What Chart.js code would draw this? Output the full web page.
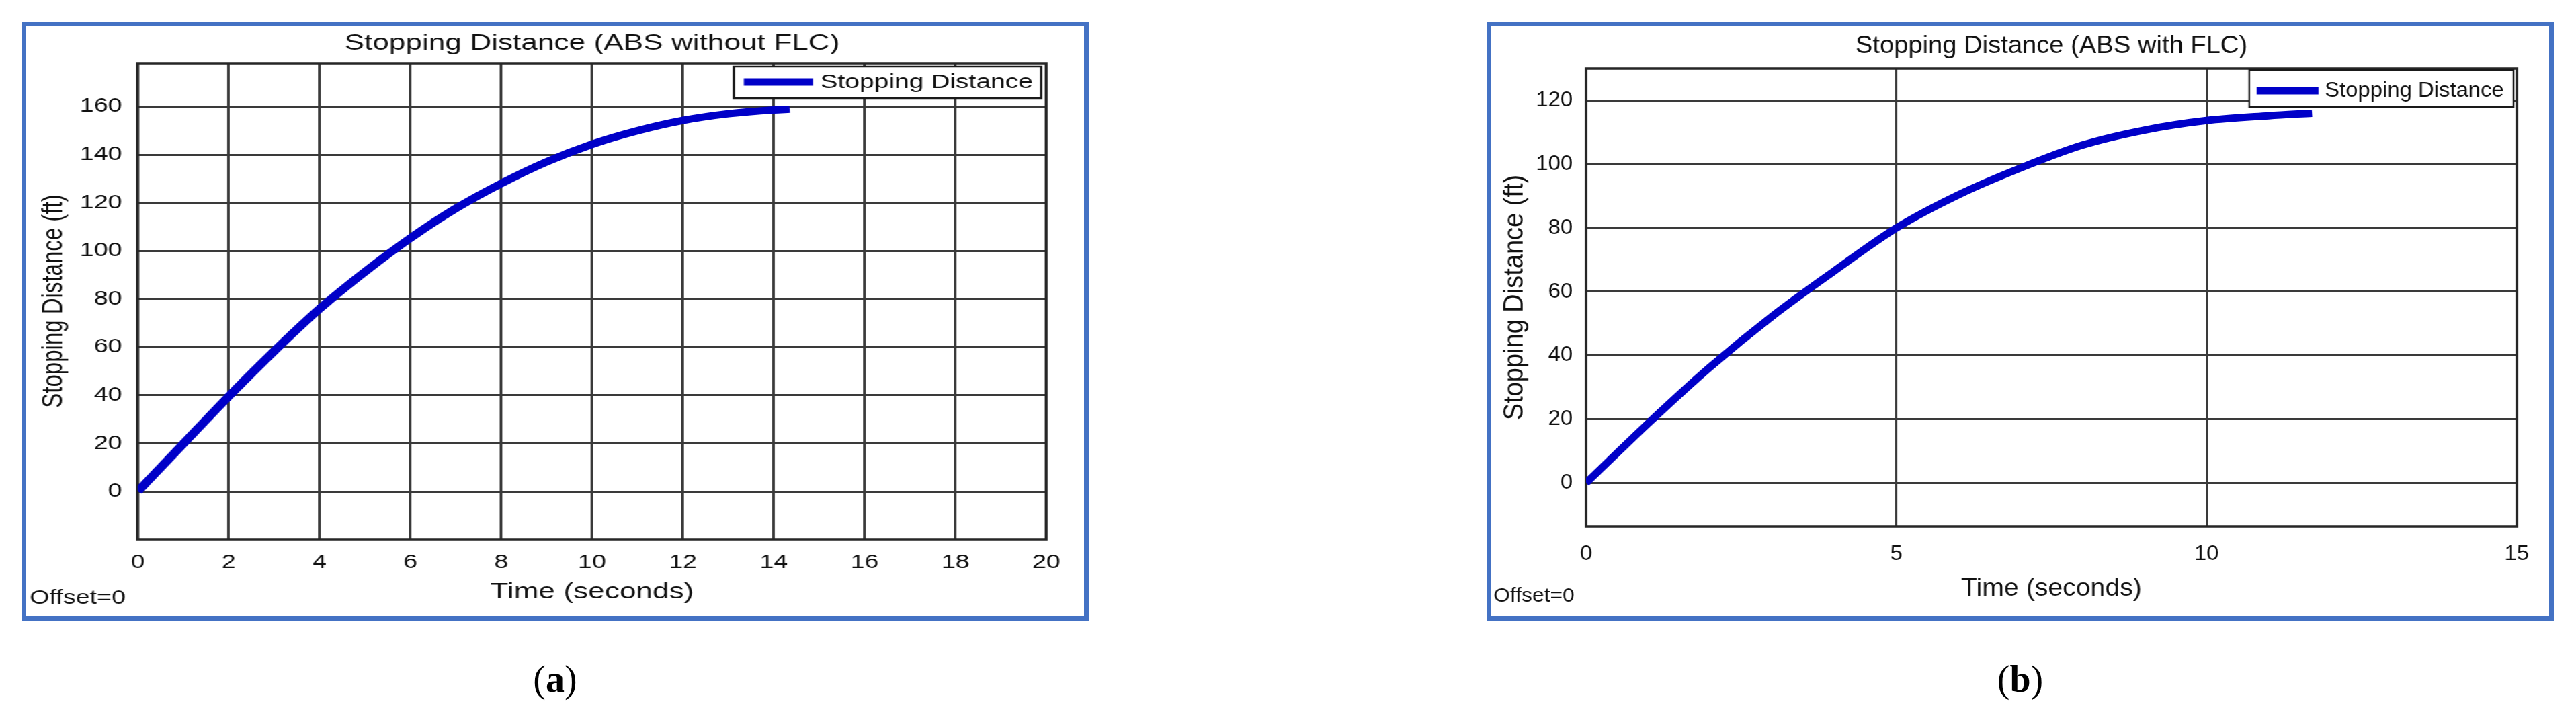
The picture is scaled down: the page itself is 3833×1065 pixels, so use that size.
<!DOCTYPE html>
<html>
<head>
<meta charset="utf-8">
<script src="https://cdn.jsdelivr.net/npm/chart.js@4.4.1/dist/chart.umd.min.js"></script>
<style>
  html, body { margin: 0; padding: 0; background: #fff; }
  body { width: 3833px; height: 1065px; position: relative; overflow: hidden; }
  .panel { position: absolute; top: 32px; width: 1588px; height: 892px; box-sizing: border-box; border: 7px solid #4472C4; background: #fff; }
  .panel canvas { display: block; }
  .cap { position: absolute; top: 975px; width: 200px; text-align: center; font-family: "Liberation Serif", "Times New Roman", serif; font-size: 56px; color: #000; line-height: 70px; }
</style>
</head>
<body>
<div class="panel" style="left:32px"><canvas id="chartA" width="1211" height="878" style="width:1574px;height:878px"></canvas></div>
<div class="panel" style="left:2212px"><canvas id="chartB" width="1485" height="878" style="width:1574px;height:878px"></canvas></div>
<div class="cap" style="left:726px">(<b>a</b>)</div>
<div class="cap" style="left:2906px">(<b>b</b>)</div>
<script>
// ---------- data ----------
const seriesLabel = 'Stopping Distance';

const titleA = 'Stopping Distance (ABS without FLC)';
const timeA = [0, 1, 2, 3, 4, 5, 6, 7, 8, 9, 10, 11, 12, 13, 14, 14.35];
const distA = [0, 19.8, 39.5, 58.3, 75.9, 91.3, 105.3, 117.6, 128.0, 137.0, 144.3, 149.9, 154.2, 157.0, 158.6, 158.9];
const xTicksA = [0, 2, 4, 6, 8, 10, 12, 14, 16, 18, 20];
const yTicksA = [0, 20, 40, 60, 80, 100, 120, 140, 160];
const xRangeA = [0, 20];
const yRangeA = [-19.8, 178];

const titleB = 'Stopping Distance (ABS with FLC)';
const timeB = [0, 1, 2, 3, 4, 5, 6, 7, 8, 9, 10, 11, 11.7];
const distB = [0, 18.7, 36.4, 52.3, 66.5, 80.0, 90.4, 98.8, 106.0, 110.7, 113.7, 115.2, 116.0];
const xTicksB = [0, 5, 10, 15];
const yTicksB = [0, 20, 40, 60, 80, 100, 120];
const xRangeB = [0, 15];
const yRangeB = [-13.6, 130];

const xTitle = 'Time (seconds)';
const yTitle = 'Stopping Distance (ft)';
const offsetText = 'Offset=0';

// ---------- styling ----------
const FONT = '"Liberation Sans", Arial, Helvetica, sans-serif';
Chart.defaults.font.family = FONT;
Chart.defaults.color = '#111';

const decor = {
  id: 'decor',
  beforeDatasetsDraw(chart, args, o) {
    const { ctx, chartArea: a } = chart;
    ctx.save();
    ctx.strokeStyle = '#262626';
    ctx.lineWidth = o.frameWidth;
    ctx.strokeRect(a.left, a.top, a.right - a.left, a.bottom - a.top);
    ctx.restore();
  },
  afterDatasetsDraw(chart, args, o) {
    const ctx = chart.ctx;
    const ds = chart.data.datasets[0];
    const L = o.legend;
    ctx.save();
    ctx.fillStyle = '#fff';
    ctx.fillRect(L.x0, L.y0, L.x1 - L.x0, L.y1 - L.y0);
    ctx.strokeStyle = '#1a1a1a';
    ctx.lineWidth = 2.5;
    ctx.strokeRect(L.x0, L.y0, L.x1 - L.x0, L.y1 - L.y0);
    ctx.strokeStyle = ds.borderColor;
    ctx.lineWidth = ds.borderWidth;
    ctx.lineCap = 'butt';
    ctx.beginPath();
    ctx.moveTo(L.lx0, L.ly);
    ctx.lineTo(L.lx1, L.ly);
    ctx.stroke();
    ctx.fillStyle = '#111';
    ctx.font = L.size + 'px ' + FONT;
    ctx.textBaseline = 'middle';
    ctx.textAlign = 'left';
    ctx.fillText(ds.label, L.tx, L.ty);
    ctx.font = o.offsetSize + 'px ' + FONT;
    ctx.textBaseline = 'alphabetic';
    ctx.fillText(offsetText, o.ox, o.oy);
    ctx.restore();
  }
};

function makeChart(id, cfg) {
  const xs = cfg.time, ys = cfg.dist;
  return new Chart(document.getElementById(id), {
    type: 'line',
    data: {
      datasets: [{
        label: seriesLabel,
        data: xs.map((t, i) => ({ x: t, y: ys[i] })),
        borderColor: '#0000C8',
        backgroundColor: '#0000C8',
        borderWidth: 11,
        pointRadius: 0,
        fill: false,
        cubicInterpolationMode: 'monotone',
        borderCapStyle: 'butt'
      }]
    },
    options: {
      responsive: false,
      animation: false,
      devicePixelRatio: 1,
      events: [],
      layout: { padding: { left: 0, top: 0, right: cfg.padRight, bottom: 0 } },
      plugins: {
        legend: { display: false },
        tooltip: { enabled: false },
        title: {
          display: true,
          text: cfg.title,
          fullSize: false,
          color: '#111',
          font: { size: cfg.titleSize, weight: 'normal', family: FONT },
          padding: { top: cfg.titlePadTop, bottom: cfg.titlePadBottom }
        },
        decor: {
          frameWidth: 3.5,
          legend: cfg.legend,
          offsetSize: cfg.offsetSize,
          ox: cfg.ox, oy: cfg.oy
        }
      },
      scales: {
        x: {
          type: 'linear',
          min: cfg.xRange[0], max: cfg.xRange[1],
          afterBuildTicks: s => { s.ticks = cfg.xTicks.map(v => ({ value: v })); },
          afterFit: s => { s.height = cfg.xAxisHeight; },
          ticks: { autoSkip: false, maxRotation: 0, padding: cfg.xTickPad, color: '#111', font: { size: cfg.tickSize } },
          grid: { color: '#3a3a3a', lineWidth: 3, drawTicks: false },
          border: { display: false },
          title: { display: true, text: xTitle, color: '#111', font: { size: cfg.xTitleSize }, padding: { top: 0, bottom: cfg.xTitlePad } }
        },
        y: {
          type: 'linear',
          min: cfg.yRange[0], max: cfg.yRange[1],
          afterBuildTicks: s => { s.ticks = cfg.yTicks.map(v => ({ value: v })); },
          afterFit: s => { s.width = cfg.yAxisWidth; },
          ticks: { padding: cfg.yTickPad, color: '#111', font: { size: cfg.tickSize } },
          grid: { color: '#3a3a3a', lineWidth: 3, drawTicks: false },
          border: { display: false },
          title: { display: true, text: yTitle, color: '#111', font: { size: cfg.yTitleSize }, padding: { top: cfg.yTitlePad, bottom: 0 } }
        }
      }
    },
    plugins: [decor]
  });
}

makeChart('chartA', {
  title: titleA, time: timeA, dist: distA,
  xTicks: xTicksA, yTicks: yTicksA, xRange: xRangeA, yRange: yRangeA,
  padRight: 43.2, yAxisWidth: 127.7, xAxisHeight: 115,
  titleSize: 34, titlePadTop: 5.6, titlePadBottom: 8.6,
  tickSize: 29, xTickPad: 17.6, yTickPad: 18,
  xTitleSize: 34, xTitlePad: 16, yTitleSize: 33, yTitlePad: 12.5,
  legend: { x0: 810, y0: 60, x1: 1162, y1: 107, lx0: 821.5, lx1: 900.8, ly: 83, tx: 909, ty: 84, size: 30 },
  offsetSize: 29, ox: 4, oy: 859
});

makeChart('chartB', {
  title: titleB, time: timeB, dist: distB,
  xTicks: xTicksB, yTicks: yTicksB, xRange: xRangeB, yRange: yRangeB,
  padRight: 45.4, yAxisWidth: 133, xAxisHeight: 134,
  titleSize: 36, titlePadTop: 8.9, titlePadBottom: 10.9,
  tickSize: 31, xTickPad: 22.9, yTickPad: 18.8,
  xTitleSize: 37, xTitlePad: 19.3, yTitleSize: 38, yTitlePad: 11.2,
  legend: { x0: 1064, y0: 65, x1: 1435, y1: 120, lx0: 1074.5, lx1: 1161.3, ly: 96, tx: 1170, ty: 96, size: 31 },
  offsetSize: 30, ox: 3, oy: 856
});
</script>
</body>
</html>
